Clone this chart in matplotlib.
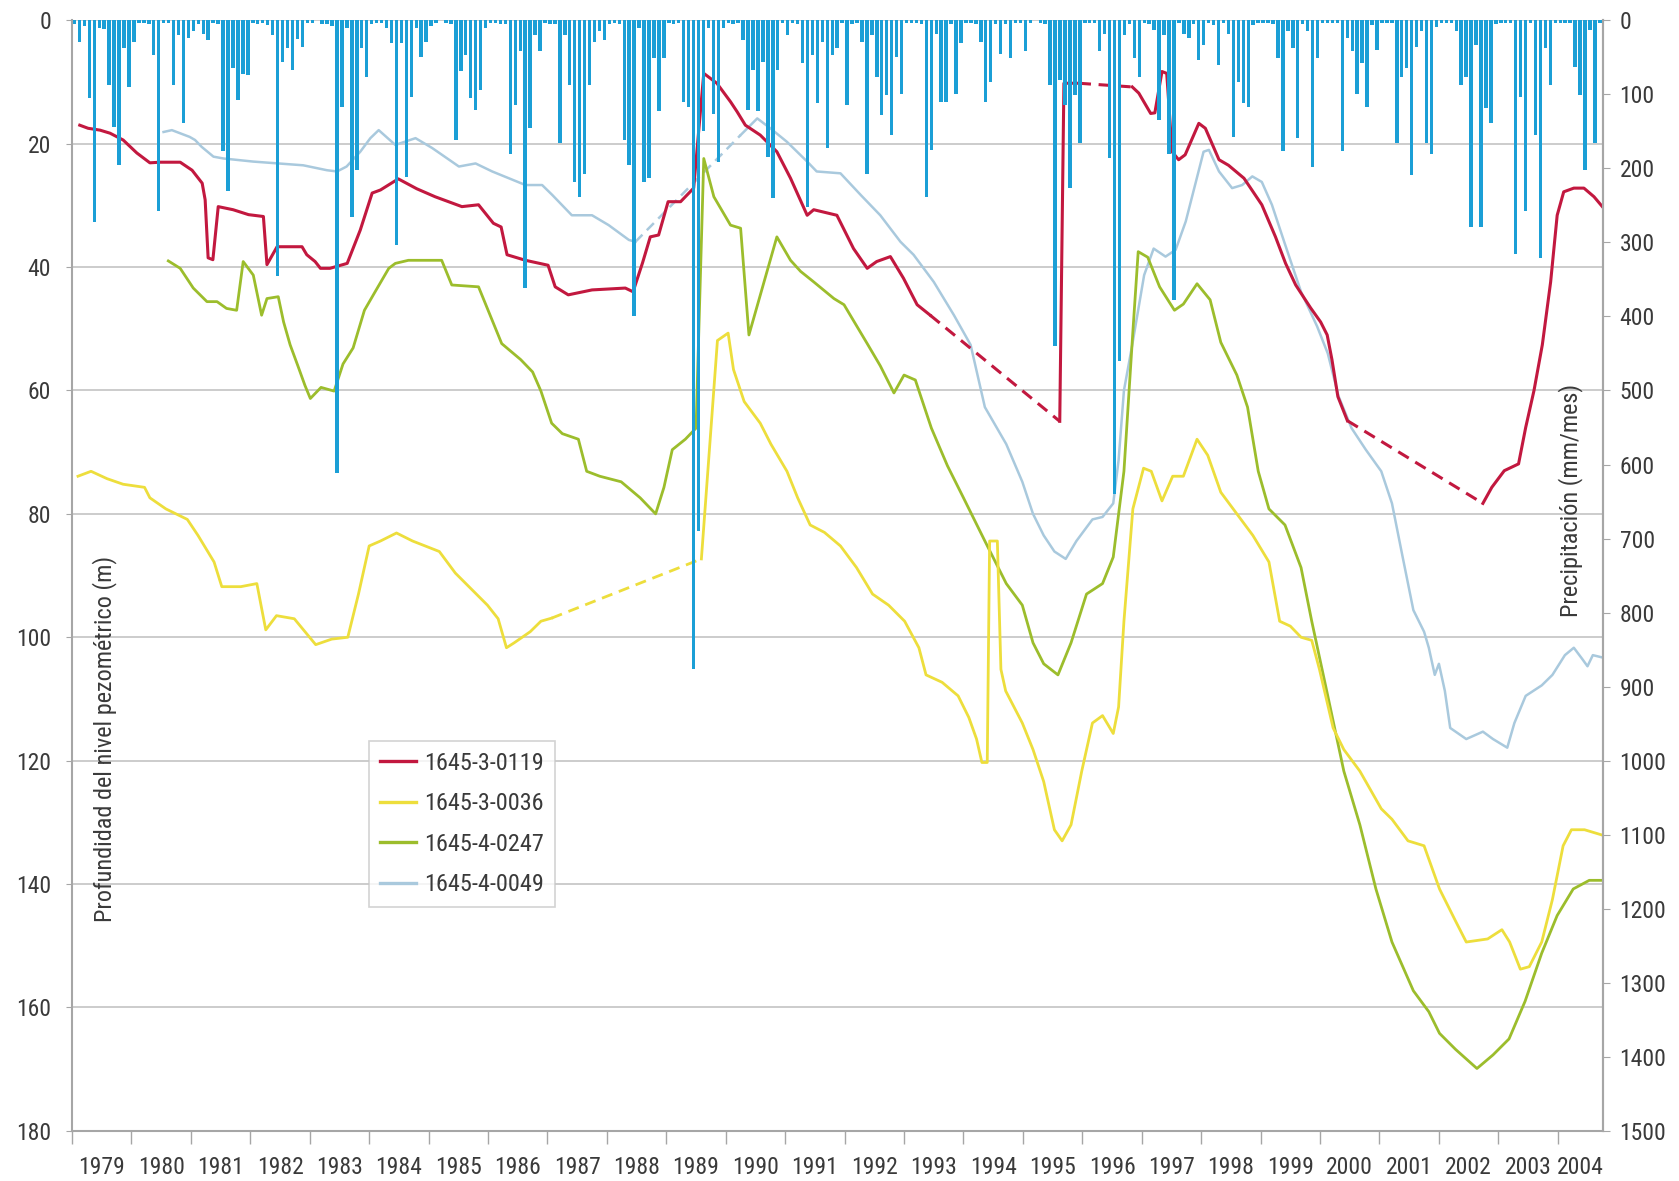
import numpy as np
import matplotlib.pyplot as plt
from matplotlib.lines import Line2D

plt.rcParams['font.family'] = ['Roboto Condensed', 'Liberation Sans Narrow', 'DejaVu Sans']
plt.rcParams['font.stretch'] = 'condensed'

# monthly precipitation (mm/mes), one row per year from 1979
precip_years = list(range(1979, 2005))
precip_monthly = [
    [5, 29, 8, 105, 272, 10, 12, 87, 144, 195, 38, 90],        # 1979
    [29, 3, 3, 5, 47, 258, 3, 3, 87, 20, 139, 24],             # 1980
    [15, 5, 18, 27, 3, 5, 177, 231, 65, 108, 72, 74],          # 1981
    [3, 5, 3, 7, 20, 346, 56, 38, 67, 25, 36, 3],              # 1982
    [3, 0, 5, 5, 8, 612, 117, 10, 265, 202, 38, 76],           # 1983
    [5, 3, 3, 10, 31, 303, 31, 211, 103, 11, 49, 29],          # 1984
    [8, 3, 0, 3, 5, 162, 69, 47, 105, 121, 94, 11],            # 1985
    [3, 3, 5, 5, 180, 114, 42, 362, 146, 20, 42, 3],           # 1986
    [5, 5, 166, 20, 87, 218, 238, 207, 87, 29, 15, 27],        # 1987
    [5, 3, 5, 162, 195, 400, 10, 218, 213, 51, 123, 51],       # 1988
    [3, 5, 3, 110, 117, 876, 690, 150, 10, 126, 191, 11],      # 1989
    [3, 5, 3, 27, 121, 67, 123, 56, 184, 240, 67, 3],          # 1990
    [20, 3, 5, 58, 252, 47, 112, 29, 173, 47, 38, 3],          # 1991
    [114, 5, 3, 29, 207, 20, 76, 128, 101, 155, 49, 99],       # 1992
    [3, 3, 3, 5, 238, 175, 18, 110, 110, 5, 99, 31],           # 1993
    [3, 3, 5, 29, 110, 83, 5, 45, 5, 51, 3, 3],                # 1994
    [42, 3, 0, 3, 5, 87, 440, 80, 114, 227, 101, 166],         # 1995
    [3, 3, 3, 42, 18, 186, 640, 460, 20, 5, 51, 76],           # 1996
    [3, 5, 13, 135, 20, 180, 378, 3, 18, 24, 5, 54],           # 1997
    [33, 3, 6, 60, 3, 18, 157, 83, 112, 117, 6, 3],            # 1998
    [3, 3, 5, 51, 177, 15, 38, 159, 5, 15, 198, 51],           # 1999
    [3, 3, 3, 3, 177, 24, 42, 99, 58, 117, 6, 40],             # 2000
    [3, 3, 3, 166, 76, 65, 209, 36, 15, 166, 180, 9],          # 2001
    [3, 3, 3, 15, 87, 76, 279, 33, 279, 119, 139, 5],          # 2002
    [3, 3, 3, 315, 103, 258, 3, 155, 321, 38, 87, 3],          # 2003
    [3, 3, 3, 63, 101, 202, 13, 166, 3],                       # 2004
]

# piezometric depth (m) per well; gap_* marks where a dashed stretch starts
t_0119 = [1979.13, 1979.27, 1979.47, 1979.64, 1979.86, 1980.09, 1980.31, 1980.48, 1980.82, 1981.02,
          1981.19, 1981.24, 1981.29, 1981.37, 1981.46, 1981.71, 1981.97, 1982.22, 1982.28, 1982.45,
          1982.87, 1982.95, 1983.09, 1983.18, 1983.34, 1983.63, 1983.85, 1984.05, 1984.19, 1984.49,
          1984.80, 1985.11, 1985.56, 1985.84, 1986.09, 1986.22, 1986.32, 1986.63, 1987.01, 1987.13,
          1987.35, 1987.75, 1988.31, 1988.44, 1988.60, 1988.73, 1988.87, 1989.03, 1989.24, 1989.46,
          1989.63, 1989.85, 1990.08, 1990.19, 1990.33, 1990.58, 1990.86, 1991.09, 1991.37, 1991.48,
          1991.87, 1992.15, 1992.38, 1992.54, 1992.77, 1992.99, 1993.22, 1993.44,
          1995.62, 1995.69, 1995.94,
          1996.84, 1996.95, 1997.15, 1997.22, 1997.34, 1997.42, 1997.51, 1997.62, 1997.73, 1997.96,
          1998.07, 1998.30, 1998.46, 1998.72, 1999.02, 1999.25, 1999.42, 1999.59, 1999.84, 2000.01,
          2000.12, 2000.20, 2000.30, 2000.46,
          2002.74, 2002.89, 2003.10, 2003.34, 2003.46, 2003.60, 2003.74, 2003.88, 2003.99, 2004.10,
          2004.27, 2004.44, 2004.61, 2004.75]
d_0119 = [17.0, 17.5, 17.8, 18.3, 19.4, 21.5, 23.1, 23.0, 23.0, 24.3,
          26.4, 29.1, 38.5, 38.8, 30.2, 30.7, 31.5, 31.8, 39.6, 36.7,
          36.7, 38.0, 39.1, 40.2, 40.2, 39.4, 34.0, 28.0, 27.5, 25.7,
          27.3, 28.6, 30.2, 29.9, 32.9, 33.5, 38.0, 38.9, 39.7, 43.2,
          44.5, 43.7, 43.4, 44.0, 39.3, 35.1, 34.8, 29.4, 29.4, 27.2,
          8.6, 10.2, 13.2, 14.8, 17.0, 18.6, 21.3, 25.6, 31.6, 30.7,
          31.6, 37.0, 40.2, 39.1, 38.3, 41.8, 46.1, 47.8,
          65.0, 10.2, 10.2,
          10.8, 11.8, 15.1, 15.0, 8.3, 8.6, 21.3, 22.6, 21.8, 16.7,
          17.5, 22.6, 23.5, 25.6, 29.9, 35.1, 39.4, 42.9, 46.6, 48.9,
          51.0, 55.0, 61.0, 64.9,
          78.3, 75.7, 73.0, 71.9, 66.0, 60.0, 52.6, 42.4, 31.6, 27.8,
          27.2, 27.2, 28.6, 30.2]
gap_0119 = [1993.44, 1995.94, 2000.46]

t_0036 = [1979.10, 1979.32, 1979.59, 1979.86, 1980.22, 1980.31, 1980.58, 1980.94, 1981.12, 1981.39,
          1981.52, 1981.84, 1982.11, 1982.26, 1982.44, 1982.74, 1982.92, 1983.10, 1983.37, 1983.64,
          1983.82, 1984.00, 1984.19, 1984.46, 1984.73, 1985.18, 1985.45, 1985.72, 1985.99, 1986.17,
          1986.31, 1986.44, 1986.71, 1986.89, 1987.07,
          1989.59, 1989.86, 1990.04, 1990.13, 1990.31, 1990.58, 1990.76, 1991.03, 1991.21, 1991.42,
          1991.66, 1991.93, 1992.20, 1992.47, 1992.74, 1993.01, 1993.25, 1993.37, 1993.64, 1993.91,
          1994.09, 1994.22, 1994.31, 1994.40, 1994.44, 1994.57, 1994.63, 1994.71, 1994.99, 1995.17,
          1995.35, 1995.53, 1995.66, 1995.81, 1995.99, 1996.17, 1996.34, 1996.52, 1996.61, 1996.70,
          1996.85, 1997.03, 1997.16, 1997.34, 1997.52, 1997.70, 1997.93, 1998.11, 1998.33, 1998.60,
          1998.87, 1999.14, 1999.32, 1999.50, 1999.68, 1999.86, 1999.99, 2000.22, 2000.40, 2000.67,
          2001.03, 2001.21, 2001.48, 2001.75, 2002.01, 2002.28, 2002.46, 2002.82, 2003.06, 2003.19,
          2003.37, 2003.52, 2003.73, 2003.91, 2004.09, 2004.23, 2004.45, 2004.76]
d_0036 = [73.9, 73.1, 74.3, 75.2, 75.7, 77.4, 79.2, 80.9, 83.5, 87.8,
          91.8, 91.8, 91.3, 98.8, 96.5, 97.0, 99.1, 101.2, 100.3, 100.0,
          93.0, 85.2, 84.4, 83.1, 84.4, 86.1, 89.6, 92.2, 94.8, 97.0,
          101.7, 100.9, 99.1, 97.4, 96.9,
          87.3, 51.9, 50.7, 56.6, 61.8, 65.3, 68.7, 73.1, 77.4, 81.8,
          83.0, 85.2, 88.7, 93.0, 94.8, 97.4, 101.7, 106.1, 107.3, 109.5,
          113.0, 116.5, 120.3, 120.3, 84.4, 84.4, 105.2, 108.7, 113.9, 118.2,
          123.4, 131.2, 133.0, 130.4, 121.7, 113.9, 112.7, 115.6, 111.3, 97.4,
          79.2, 72.6, 73.1, 77.9, 73.9, 73.9, 67.9, 70.5, 76.5, 80.0,
          83.5, 87.8, 97.4, 98.2, 100.0, 100.5, 105.2, 114.7, 118.2, 121.7,
          127.8, 129.5, 133.0, 133.8, 140.8, 146.0, 149.4, 148.9, 147.4, 149.4,
          153.8, 153.4, 149.4, 142.5, 133.8, 131.2, 131.2, 132.1]
gap_0036 = [1987.07]

t_0247 = [1980.62, 1980.82, 1981.04, 1981.27, 1981.44, 1981.60, 1981.77, 1981.88, 1982.05, 1982.19,
          1982.28, 1982.47, 1982.56, 1982.67, 1982.80, 1982.92, 1983.01, 1983.19, 1983.41, 1983.56,
          1983.73, 1983.92, 1984.10, 1984.33, 1984.44, 1984.66, 1985.22, 1985.39, 1985.84, 1986.23,
          1986.55, 1986.75, 1986.89, 1987.07, 1987.25, 1987.52, 1987.66, 1987.88, 1988.24, 1988.56,
          1988.82, 1988.96, 1989.10, 1989.32, 1989.50, 1989.63, 1989.80, 1990.08, 1990.25, 1990.39,
          1990.86, 1991.09, 1991.26, 1991.48, 1991.82, 1991.99, 1992.38, 1992.60, 1992.83, 1993.00,
          1993.19, 1993.46, 1993.73, 1994.00, 1994.36, 1994.72, 1994.99, 1995.17, 1995.35, 1995.59,
          1995.81, 1996.07, 1996.34, 1996.52, 1996.70, 1996.85, 1996.94, 1997.10, 1997.30, 1997.55,
          1997.70, 1997.93, 1998.15, 1998.33, 1998.60, 1998.78, 1998.96, 1999.14, 1999.41, 1999.68,
          1999.86, 2000.13, 2000.40, 2000.67, 2000.94, 2001.21, 2001.57, 2001.83, 2002.01, 2002.28,
          2002.64, 2002.91, 2003.18, 2003.45, 2003.73, 2003.99, 2004.26, 2004.53, 2004.74]
d_0247 = [39.0, 40.2, 43.4, 45.6, 45.6, 46.7, 47.0, 39.1, 41.3, 47.8,
          45.1, 44.8, 48.9, 52.6, 56.0, 59.2, 61.3, 59.5, 60.1, 55.7,
          53.1, 47.0, 44.0, 40.2, 39.4, 38.9, 38.9, 42.9, 43.2, 52.4,
          55.0, 57.0, 60.1, 65.3, 67.0, 67.9, 73.1, 73.9, 74.8, 77.4,
          80.0, 75.7, 69.6, 67.9, 66.1, 22.4, 28.6, 33.2, 33.7, 51.0,
          35.1, 38.9, 40.7, 42.4, 45.1, 46.1, 52.4, 56.0, 60.4, 57.5,
          58.3, 66.1, 72.2, 77.4, 84.4, 91.3, 94.8, 100.9, 104.3, 106.1,
          100.9, 93.0, 91.3, 87.0, 73.1, 50.5, 37.5, 38.4, 43.2, 47.0,
          46.0, 42.7, 45.3, 52.2, 57.5, 62.7, 73.1, 79.2, 81.8, 88.7,
          97.4, 109.5, 121.7, 130.4, 140.8, 149.4, 157.3, 160.7, 164.2, 166.8,
          169.9, 167.7, 165.1, 159.0, 151.2, 145.1, 140.8, 139.4, 139.4]
gap_0247 = []

t_0049 = [1980.54, 1980.68, 1980.98, 1981.07, 1981.18, 1981.38, 1981.55, 1982.05, 1982.89, 1983.29,
          1983.46, 1983.62, 1983.85, 1984.02, 1984.16, 1984.44, 1984.78, 1985.06, 1985.51, 1985.79,
          1986.07, 1986.35, 1986.63, 1986.91, 1987.08, 1987.41, 1987.75, 1988.03, 1988.37, 1988.48,
          1990.25, 1990.53, 1990.75, 1991.03, 1991.37, 1991.53, 1991.93, 1992.27, 1992.60, 1992.94,
          1993.16, 1993.50, 1993.84, 1994.12, 1994.36, 1994.72, 1994.99, 1995.17, 1995.35, 1995.53,
          1995.72, 1995.90, 1996.17, 1996.34, 1996.52, 1996.61, 1996.70, 1996.84, 1997.04, 1997.20,
          1997.40, 1997.57, 1997.74, 1997.91, 1998.04, 1998.13, 1998.30, 1998.52, 1998.69, 1998.86,
          1999.02, 1999.19, 1999.40, 1999.68, 1999.95, 2000.13, 2000.31, 2000.53, 2000.77, 2001.03,
          2001.21, 2001.39, 2001.57, 2001.75, 2001.83, 2001.93, 2002.00, 2002.10, 2002.19, 2002.46,
          2002.74, 2002.91, 2003.15, 2003.27, 2003.46, 2003.73, 2003.91, 2004.12, 2004.27, 2004.41,
          2004.50, 2004.59, 2004.76]
d_0049 = [18.1, 17.8, 18.9, 19.4, 20.5, 22.1, 22.4, 22.9, 23.5, 24.3,
          24.5, 23.7, 21.3, 19.1, 17.8, 20.2, 19.1, 20.7, 23.7, 23.2,
          24.5, 25.6, 26.7, 26.7, 28.3, 31.6, 31.6, 33.2, 35.6, 35.9,
          18.6, 15.9, 17.5, 19.7, 22.9, 24.5, 24.8, 28.3, 31.6, 35.9,
          38.0, 42.4, 47.8, 52.6, 62.7, 68.7, 74.8, 80.0, 83.5, 86.1,
          87.3, 84.4, 80.9, 80.5, 78.3, 71.3, 60.0, 52.6, 41.3, 37.0,
          38.3, 37.2, 32.6, 26.2, 21.3, 21.0, 24.5, 27.2, 26.7, 25.3,
          26.2, 29.9, 36.0, 44.0, 49.6, 54.0, 60.9, 66.1, 69.6, 73.1,
          78.3, 87.0, 95.6, 99.1, 101.7, 106.1, 104.3, 108.7, 114.7, 116.5,
          115.3, 116.5, 117.9, 113.9, 109.5, 107.8, 106.1, 102.9, 101.7, 103.5,
          104.7, 102.9, 103.3]
gap_0049 = [1988.48]

wells = ['1645-3-0119', '1645-3-0036', '1645-4-0247', '1645-4-0049']
well_colors = ['#C2183F', '#EDDE3C', '#9CBD2C', '#A9C9DD']

grey = '#A6A6A6'
text_c = '#3A3A3A'
fs = 17


def draw_well(ax, t, d, gaps, color, lw):
    t = np.asarray(t)
    d = np.asarray(d)
    gap_idx = {int(np.argmin(np.abs(t - g))) for g in gaps}
    start = 0
    for i in range(len(t) - 1):
        if i in gap_idx:
            ax.plot(t[start:i + 1], d[start:i + 1], color=color, lw=lw, solid_joinstyle='round')
            ax.plot(t[i:i + 2], d[i:i + 2], color=color, lw=lw, ls=(0, (4, 2.5)))
            start = i + 1
    ax.plot(t[start:], d[start:], color=color, lw=lw, solid_joinstyle='round')


fig = plt.figure(figsize=(16.79, 11.81), dpi=100)
ax = fig.add_axes([0.0429, 0.0425, 0.9118, 0.9403])

t_end = 2004.76
ax.set_xlim(1979.0, t_end)
ax.set_ylim(180, 0)
ax.set_yticks(np.arange(0, 181, 20))
ax.grid(axis='y', color='#C4C4C4', lw=1.2)
ax.set_axisbelow(True)

draw_well(ax, t_0049, d_0049, gap_0049, well_colors[3], 1.8)
draw_well(ax, t_0247, d_0247, gap_0247, well_colors[2], 2.0)
draw_well(ax, t_0036, d_0036, gap_0036, well_colors[1], 2.0)
draw_well(ax, t_0119, d_0119, gap_0119, well_colors[0], 2.2)

# year ticks on the boundaries, year labels centred in each year
years = np.arange(1979, 2005)
ax.set_xticks(years)
ax.set_xticklabels([])
mids = [(y + min(y + 1, t_end)) / 2 for y in years]
ax.set_xticks(mids, minor=True)
ax.set_xticklabels([str(y) for y in years], minor=True)
ax.tick_params(axis='x', which='major', length=9, color=grey, width=1)
ax.tick_params(axis='x', which='minor', length=0, pad=18, labelsize=fs, labelcolor=text_c)
ax.tick_params(axis='y', length=4, color=grey, labelsize=fs, labelcolor=text_c, pad=11)

for side in ['left', 'bottom', 'right']:
    ax.spines[side].set_color(grey)
    ax.spines[side].set_linewidth(1.5)
ax.spines['top'].set_visible(False)

# monthly precipitation bars hanging from the top on a secondary axis
ax2 = ax.twinx()
rain = np.concatenate([np.asarray(r, dtype=float) for r in precip_monthly])
months = np.arange(len(rain))
ax2.bar(1979 + (months + 0.5) / 12, rain, width=0.058, color='#1B9FD6', linewidth=0)
ax2.set_ylim(1500, 0)
ax2.set_yticks(np.arange(0, 1501, 100))
ax2.tick_params(axis='y', length=5, color=grey, labelsize=fs, labelcolor=text_c, pad=7)
ax2.spines['right'].set_color(grey)
ax2.spines['right'].set_linewidth(1.5)
for side in ['left', 'bottom', 'top']:
    ax2.spines[side].set_visible(False)
ax2.set_xlim(1979.0, t_end)

ax.text(0.021, 0.353, 'Profundidad del nivel pezométrico (m)', transform=ax.transAxes,
        rotation=90, ha='center', va='center', fontsize=17.5, color=text_c)
ax2.text(0.979, 0.568, 'Precipitación (mm/mes)', transform=ax2.transAxes,
         rotation=90, ha='center', va='center', fontsize=17.5, color=text_c)

handles = [Line2D([], [], color=c, lw=2.4) for c in well_colors]
leg = ax2.legend(handles, wells, loc='upper left', bbox_to_anchor=(0.194, 0.351),
                 borderaxespad=0, fontsize=17.5, frameon=True, fancybox=False,
                 handlelength=1.5, handletextpad=0.3, labelspacing=0.72, borderpad=0.45)
leg.get_frame().set_edgecolor('#C8C8C8')
leg.get_frame().set_linewidth(1.2)
for txt in leg.get_texts():
    txt.set_color(text_c)

fig.savefig('out.png', dpi=100)
